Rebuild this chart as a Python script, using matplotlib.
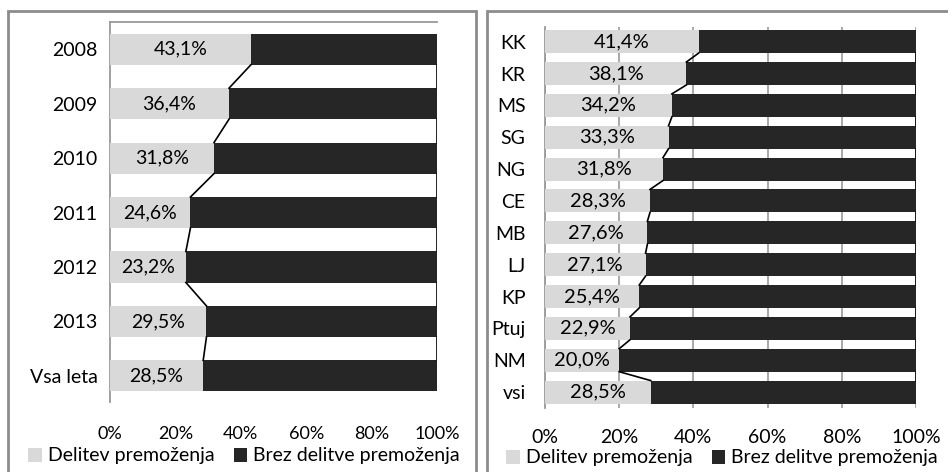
import matplotlib
import matplotlib.pyplot as plt
from matplotlib.patches import Rectangle

matplotlib.use('Agg')

plt.rcParams['font.family'] = ['Lato', 'DejaVu Sans']

# share of cases with division of property, by year
years = ['2008', '2009', '2010', '2011', '2012', '2013', 'Vsa leta']
years_share = [43.1, 36.4, 31.8, 24.6, 23.2, 29.5, 28.5]

# share of cases with division of property, by court
courts = ['KK', 'KR', 'MS', 'SG', 'NG', 'CE', 'MB', 'LJ', 'KP', 'Ptuj', 'NM', 'vsi']
courts_share = [41.4, 38.1, 34.2, 33.3, 31.8, 28.3, 27.6, 27.1, 25.4, 22.9, 20.0, 28.5]

series_names = ['Delitev premoženja', 'Brez delitve premoženja']
tick_values = [0, 20, 40, 60, 80, 100]

LIGHT = '#d9d9d9'
DARK = '#262626'
FRAME = '#8c8c8c'
AXIS = '#9a9a9a'

W, H = 948, 472


def px_axes(fig, left, top, right, bottom):
    return fig.add_axes([left / W, 1 - bottom / H, (right - left) / W, (bottom - top) / H])


def draw_stacked(ax, labels, share, height, ylim, gridlines,
                 label_size, value_size, tick_size, ypad, xpad):
    pos = list(range(len(labels)))
    rest = [100 - s for s in share]
    ax.barh(pos, share, height=height, color=LIGHT, label=series_names[0], zorder=3)
    ax.barh(pos, rest, left=share, height=height, color=DARK, label=series_names[1], zorder=3)

    # series lines between neighbouring bars
    for i in range(len(pos) - 1):
        y0 = pos[i] + height / 2
        y1 = pos[i + 1] - height / 2
        ax.plot([share[i], share[i + 1]], [y0, y1], color='black', lw=1.2, zorder=4)
        ax.plot([100, 100], [y0, y1], color='black', lw=1.2, zorder=4)

    for p, s in zip(pos, share):
        ax.text(s / 2, p, f'{s:.1f}%'.replace('.', ','), ha='center', va='center',
                fontsize=value_size, color='black', zorder=5)

    ax.set_xlim(0, 100)
    ax.set_ylim(*ylim)
    ax.set_yticks(pos)
    ax.set_yticklabels(labels, fontsize=label_size)
    ax.set_xticks(tick_values)
    ax.set_xticklabels([f'{t}%' for t in tick_values], fontsize=tick_size)
    ax.tick_params(axis='both', length=0, colors='black')
    ax.tick_params(axis='y', pad=ypad)
    ax.tick_params(axis='x', pad=xpad)
    for side in ('right', 'bottom', 'top'):
        ax.spines[side].set_visible(False)
    ax.spines['left'].set_color(AXIS)
    ax.spines['left'].set_linewidth(1.3)
    if gridlines:
        ax.grid(axis='x', color=AXIS, lw=1.2, zorder=0)
    else:
        ax.spines['top'].set_visible(True)
        ax.spines['top'].set_color(AXIS)
        ax.spines['top'].set_linewidth(1.3)


def add_legend(ax, cx, cy, left, top, right, bottom, size):
    ax.legend(loc='center',
              bbox_to_anchor=((cx - left) / (right - left), -(cy - bottom) / (bottom - top)),
              ncol=2, frameon=False, fontsize=size, handlelength=0.7, handleheight=0.7,
              handletextpad=0.3, columnspacing=1.0, borderaxespad=0)


fig = plt.figure(figsize=(W / 100, H / 100), dpi=100)

# panel frames
fig.patches.append(Rectangle((8 / W, -0.05), (476 - 8) / W, 1.05 - 10.5 / H,
                             transform=fig.transFigure, fill=False, ec=FRAME, lw=2))
fig.patches.append(Rectangle((487 / W, -0.05), 0.6, 1.05 - 10.5 / H,
                             transform=fig.transFigure, fill=False, ec=FRAME, lw=2))

box1 = (110, 22, 437, 402)
ax1 = px_axes(fig, *box1)
draw_stacked(ax1, years, years_share, 0.57, (6.48, -0.5), False,
             label_size=14, value_size=14, tick_size=13, ypad=9, xpad=17)
add_legend(ax1, 244, 456, *box1, size=14)

box2 = (545, 27, 916, 408)
ax2 = px_axes(fig, *box2)
draw_stacked(ax2, courts, courts_share, 0.72, (11.5, -0.46), True,
             label_size=14, value_size=14.5, tick_size=14, ypad=14, xpad=15)
add_legend(ax2, 722, 458, *box2, size=14)

fig.savefig('out.png', dpi=100)
